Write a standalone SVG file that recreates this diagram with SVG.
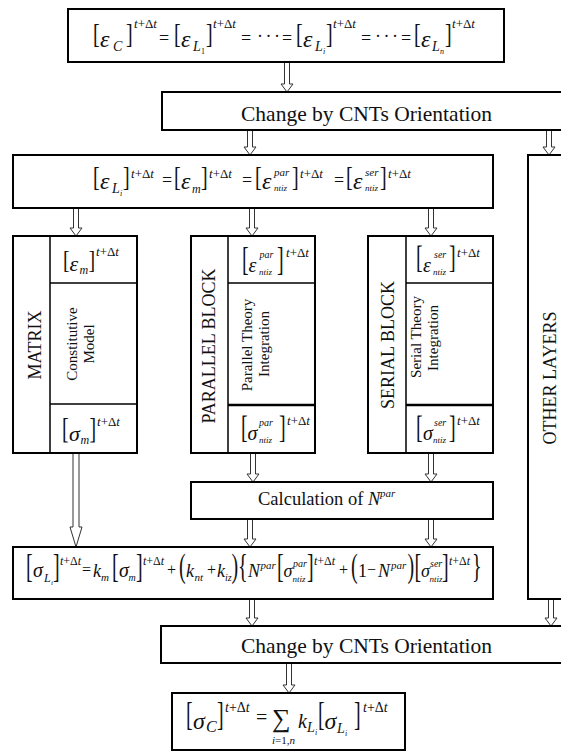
<svg xmlns="http://www.w3.org/2000/svg" width="561" height="753" viewBox="0 0 561 753">
<style>
  .box{fill:#fff;stroke:#000;stroke-width:2}
  .dv{stroke:#000;stroke-width:1.5;fill:none}
  .dvb{stroke:#000;stroke-width:2.5;fill:none}
  .arr{fill:#fff;stroke:#333;stroke-width:1}
  text{font-family:"Liberation Serif","Times New Roman",serif;fill:#111}
  .lbl{font-size:21.5px}
  .rl{font-size:18px}
  .sm{font-size:15px}
  .it{font-style:italic}
  .bk{font-size:20px}
  .up{font-style:normal}
</style>

<!-- connectors: hollow block arrows -->
<g id="connectors">
  <path class="arr" d="M284.5 62V84H281L287 92L293 84H289.5V62"/>
  <path class="arr" d="M247.5 130V147H244L250 155L256 147H252.5V130"/>
  <path class="arr" d="M546.5 130V147H543L549 155L555 147H551.5V130"/>
  <path class="arr" d="M73.5 208V228H70L76 236L82 228H78.5V208"/>
  <path class="arr" d="M249.5 208V228H246L252 236L258 228H254.5V208"/>
  <path class="arr" d="M428.5 208V228H425L431 236L437 228H433.5V208"/>
  <path class="arr" d="M250.5 453V474H247L253 482L259 474H255.5V453"/>
  <path class="arr" d="M428.5 453V474H425L431 482L437 474H433.5V453"/>
  <path class="arr" d="M73 453V527H70L76 547L82 527H79V453"/>
  <path class="arr" d="M247.5 519V539H244L250 547L256 539H252.5V519"/>
  <path class="arr" d="M428.5 519V539H425L431 547L437 539H433.5V519"/>
  <path class="arr" d="M249.5 599V618H246L252 626L258 618H254.5V599"/>
  <path class="arr" d="M548.5 599V618H545L551 626L557 618H553.5V599"/>
  <path class="arr" d="M286.5 663V685H283L289 693L295 685H291.5V663"/>
</g>

<!-- composite strain equality -->
<g id="composite-strain">
  <rect class="box" x="68" y="9" width="436" height="53"/>
  <text class="bk" transform="translate(93,42.7) scale(1,1.34)">[</text>
  <text class="it" x="100" y="47" font-size="24">ε</text>
  <text class="it" x="113" y="51" font-size="14">C</text>
  <text class="bk" transform="translate(126,42.7) scale(1,1.34)">]</text>
  <text class="it" x="134" y="28" font-size="13">t<tspan class="up">+Δ</tspan>t</text>
  <text x="159" y="44" font-size="18">=</text>
  <text class="bk" transform="translate(174,42.7) scale(1,1.34)">[</text>
  <text class="it" x="181" y="47" font-size="24">ε</text>
  <text class="it" x="193" y="51" font-size="14">L</text>
  <text x="201" y="54" font-size="8">1</text>
  <text class="bk" transform="translate(206,42.7) scale(1,1.34)">]</text>
  <text class="it" x="213" y="28" font-size="13">t<tspan class="up">+Δ</tspan>t</text>
  <text x="241" y="44" font-size="18">=</text>
  <text x="257" y="42" font-size="18" textLength="23" lengthAdjust="spacing">···</text>
  <text x="282" y="44" font-size="18">=</text>
  <text class="bk" transform="translate(296,42.7) scale(1,1.34)">[</text>
  <text class="it" x="303" y="47" font-size="24">ε</text>
  <text class="it" x="315" y="51" font-size="14">L</text>
  <text class="it" x="323" y="54" font-size="8">i</text>
  <text class="bk" transform="translate(326,42.7) scale(1,1.34)">]</text>
  <text class="it" x="333" y="28" font-size="13">t<tspan class="up">+Δ</tspan>t</text>
  <text x="361" y="44" font-size="18">=</text>
  <text x="375" y="42" font-size="18" textLength="23" lengthAdjust="spacing">···</text>
  <text x="401" y="44" font-size="18">=</text>
  <text class="bk" transform="translate(414,42.7) scale(1,1.34)">[</text>
  <text class="it" x="421" y="47" font-size="24">ε</text>
  <text class="it" x="432" y="51" font-size="14">L</text>
  <text class="it" x="440" y="54" font-size="8">n</text>
  <text class="bk" transform="translate(445,42.7) scale(1,1.34)">]</text>
  <text class="it" x="452" y="28" font-size="13">t<tspan class="up">+Δ</tspan>t</text>
</g>

<g id="orientation-in">
  <rect class="box" x="162" y="92" width="403" height="38"/>
  <text class="lbl" x="241" y="121">Change by CNTs Orientation</text>
</g>

<!-- layer strain compatibility -->
<g id="layer-strain">
  <rect class="box" x="13" y="155" width="480" height="53"/>
  <text class="bk" transform="translate(93,185.7) scale(1,1.34)">[</text>
  <text class="it" x="100" y="189" font-size="24">ε</text>
  <text class="it" x="112" y="193" font-size="14">L</text>
  <text class="it" x="120" y="196" font-size="8">i</text>
  <text class="bk" transform="translate(123,185.7) scale(1,1.34)">]</text>
  <text class="it" x="131" y="178" font-size="13">t<tspan class="up">+Δ</tspan>t</text>
  <text x="162" y="186" font-size="18">=</text>
  <text class="bk" transform="translate(174,185.7) scale(1,1.34)">[</text>
  <text class="it" x="181" y="189" font-size="24">ε</text>
  <text class="it" x="192" y="193" font-size="12">m</text>
  <text class="bk" transform="translate(201,185.7) scale(1,1.34)">]</text>
  <text class="it" x="209" y="178" font-size="13">t<tspan class="up">+Δ</tspan>t</text>
  <text x="242" y="186" font-size="18">=</text>
  <text class="bk" transform="translate(255,185.7) scale(1,1.34)">[</text>
  <text class="it" x="262" y="189" font-size="24">ε</text>
  <text class="it" x="274" y="176" font-size="11">par</text>
  <text class="it" x="274" y="191" font-size="9">ntiz</text>
  <text class="bk" transform="translate(292,185.7) scale(1,1.34)">]</text>
  <text class="it" x="300" y="178" font-size="13">t<tspan class="up">+Δ</tspan>t</text>
  <text x="334" y="186" font-size="18">=</text>
  <text class="bk" transform="translate(346,185.7) scale(1,1.34)">[</text>
  <text class="it" x="353" y="189" font-size="24">ε</text>
  <text class="it" x="365" y="176" font-size="11">ser</text>
  <text class="it" x="365" y="191" font-size="9">ntiz</text>
  <text class="bk" transform="translate(380,185.7) scale(1,1.34)">]</text>
  <text class="it" x="388" y="178" font-size="13">t<tspan class="up">+Δ</tspan>t</text>
</g>

<g id="other-layers">
  <rect class="box" x="528" y="155" width="37" height="444"/>
  <text class="rl" transform="translate(556,378) rotate(-90)" text-anchor="middle">OTHER LAYERS</text>
</g>

<!-- matrix block -->
<g id="matrix">
  <rect class="box" x="13" y="236" width="124" height="217"/>
  <path class="dv" d="M50 236V453M50 283H137M50 404H137"/>
  <text class="rl" transform="translate(41,345) rotate(-90)" text-anchor="middle">MATRIX</text>
  <text class="bk" transform="translate(63,268) scale(1,1.22)">[</text>
  <text class="it" x="69.5" y="271" font-size="22">ε</text>
  <text class="it" x="79.5" y="274" font-size="12">m</text>
  <text class="bk" transform="translate(88.5,268) scale(1,1.22)">]</text>
  <text class="it" x="96" y="256" font-size="13">t<tspan class="up">+Δ</tspan>t</text>
  <text class="sm" transform="translate(77,344) rotate(-90)" text-anchor="middle">Constitutive</text>
  <text class="sm" transform="translate(94,344) rotate(-90)" text-anchor="middle">Model</text>
  <text class="bk" transform="translate(62,438) scale(1,1.52)">[</text>
  <text class="it" x="69" y="441" font-size="22">σ</text>
  <text class="it" x="80.5" y="444" font-size="12">m</text>
  <text class="bk" transform="translate(89.5,438) scale(1,1.52)">]</text>
  <text class="it" x="97" y="426" font-size="13">t<tspan class="up">+Δ</tspan>t</text>
</g>

<!-- parallel block -->
<g id="parallel-block">
  <rect class="box" x="191" y="236" width="124" height="217"/>
  <path class="dv" d="M228 236V453M228 283H315"/>
  <path class="dvb" d="M228 405H315"/>
  <text class="rl" transform="translate(215,346) rotate(-90)" text-anchor="middle">PARALLEL BLOCK</text>
  <text class="bk" transform="translate(242,270) scale(1,1.65)">[</text>
  <text class="it" x="248.5" y="272" font-size="20">ε</text>
  <text class="it" x="259.5" y="258" font-size="10">par</text>
  <text class="it" x="259" y="275" font-size="9">ntiz</text>
  <text class="bk" transform="translate(277,270) scale(1,1.65)">]</text>
  <text class="it" x="286" y="257" font-size="13">t<tspan class="up">+Δ</tspan>t</text>
  <text class="sm" transform="translate(252,345) rotate(-90)" text-anchor="middle">Parallel Theory</text>
  <text class="sm" transform="translate(269,344) rotate(-90)" text-anchor="middle">Integration</text>
  <text class="bk" transform="translate(241,438) scale(1,1.59)">[</text>
  <text class="it" x="247.5" y="440" font-size="20">σ</text>
  <text class="it" x="259" y="426" font-size="10">par</text>
  <text class="it" x="259" y="443" font-size="9">ntiz</text>
  <text class="bk" transform="translate(279,438) scale(1,1.59)">]</text>
  <text class="it" x="287" y="425" font-size="13">t<tspan class="up">+Δ</tspan>t</text>
</g>

<!-- serial block -->
<g id="serial-block">
  <rect class="box" x="368" y="236" width="125" height="217"/>
  <path class="dv" d="M406 236V453M406 283H493"/>
  <path class="dvb" d="M406 405H493"/>
  <text class="rl" transform="translate(394,345) rotate(-90)" text-anchor="middle">SERIAL BLOCK</text>
  <text class="bk" transform="translate(416,268) scale(1,1.53)">[</text>
  <text class="it" x="423" y="272" font-size="20">ε</text>
  <text class="it" x="434" y="258" font-size="10">ser</text>
  <text class="it" x="433" y="275" font-size="9">ntiz</text>
  <text class="bk" transform="translate(449,268) scale(1,1.53)">]</text>
  <text class="it" x="457" y="257" font-size="13">t<tspan class="up">+Δ</tspan>t</text>
  <text class="sm" transform="translate(421,337) rotate(-90)" text-anchor="middle">Serial Theory</text>
  <text class="sm" transform="translate(438,338) rotate(-90)" text-anchor="middle">Integration</text>
  <text class="bk" transform="translate(416,438) scale(1,1.59)">[</text>
  <text class="it" x="423" y="440" font-size="20">σ</text>
  <text class="it" x="434" y="426" font-size="10">ser</text>
  <text class="it" x="433" y="443" font-size="9">ntiz</text>
  <text class="bk" transform="translate(449,438) scale(1,1.59)">]</text>
  <text class="it" x="457" y="425" font-size="13">t<tspan class="up">+Δ</tspan>t</text>
</g>

<g id="participation">
  <rect class="box" x="191" y="482" width="302" height="37"/>
  <text x="258" y="505" font-size="18.5">Calculation of <tspan class="it">N</tspan></text>
  <text class="it" x="380" y="497" font-size="11">par</text>
</g>

<!-- layer stress -->
<g id="layer-stress">
  <rect class="box" x="13" y="547" width="480" height="52"/>
  <text class="bk" transform="translate(26,577) scale(1,1.65)">[</text>
  <text class="it" x="33" y="577" font-size="20">σ</text>
  <text class="it" x="44" y="582" font-size="12">L</text>
  <text class="it" x="51" y="585" font-size="7">i</text>
  <text class="bk" transform="translate(53,577) scale(1,1.65)">]</text>
  <text class="it" x="60" y="565" font-size="12">t<tspan class="up">+Δ</tspan>t</text>
  <text x="82" y="575" font-size="16">=</text>
  <text class="it" x="93" y="577" font-size="18">k</text>
  <text class="it" x="101" y="581" font-size="11">m</text>
  <text class="bk" transform="translate(112,577) scale(1,1.65)">[</text>
  <text class="it" x="119" y="577" font-size="20">σ</text>
  <text class="it" x="128.5" y="581" font-size="10">m</text>
  <text class="bk" transform="translate(136,577) scale(1,1.65)">]</text>
  <text class="it" x="143" y="565" font-size="12">t<tspan class="up">+Δ</tspan>t</text>
  <text x="167" y="575" font-size="16">+</text>
  <text class="bk" transform="translate(179,577) scale(1,1.65)">(</text>
  <text class="it" x="186" y="577" font-size="18">k</text>
  <text class="it" x="194.5" y="581" font-size="11">nt</text>
  <text x="207" y="575" font-size="16">+</text>
  <text class="it" x="217" y="577" font-size="18">k</text>
  <text class="it" x="225" y="581" font-size="10">iz</text>
  <text class="bk" transform="translate(231.5,577) scale(1,1.65)">)</text>
  <text class="bk" transform="translate(238,577) scale(1,1.65)">{</text>
  <text class="it" x="248" y="577" font-size="18">N</text>
  <text class="it" x="260.5" y="569" font-size="11">par</text>
  <text class="bk" transform="translate(277,577) scale(1,1.65)">[</text>
  <text class="it" x="283.5" y="577" font-size="18">σ</text>
  <text class="it" x="293" y="567" font-size="10">par</text>
  <text class="it" x="292.5" y="582" font-size="9">ntiz</text>
  <text class="bk" transform="translate(307,577) scale(1,1.65)">]</text>
  <text class="it" x="314" y="565" font-size="12">t<tspan class="up">+Δ</tspan>t</text>
  <text x="339" y="575" font-size="16">+</text>
  <text class="bk" transform="translate(351,577) scale(1,1.65)">(</text>
  <text x="358" y="577" font-size="18">1</text>
  <text x="367" y="575" font-size="16">−</text>
  <text class="it" x="378" y="577" font-size="18">N</text>
  <text class="it" x="391" y="569" font-size="11">par</text>
  <text class="bk" transform="translate(407.5,577) scale(1,1.65)">)</text>
  <text class="bk" transform="translate(414.5,577) scale(1,1.65)">[</text>
  <text class="it" x="421" y="577" font-size="18">σ</text>
  <text class="it" x="430" y="567" font-size="10">ser</text>
  <text class="it" x="429.5" y="582" font-size="9">ntiz</text>
  <text class="bk" transform="translate(442,577) scale(1,1.65)">]</text>
  <text class="it" x="449" y="565" font-size="12">t<tspan class="up">+Δ</tspan>t</text>
  <text class="bk" transform="translate(472,577) scale(1,1.65)">}</text>
</g>

<g id="orientation-out">
  <rect class="box" x="161" y="626" width="404" height="37"/>
  <text class="lbl" x="241" y="653">Change by CNTs Orientation</text>
</g>

<!-- composite stress -->
<g id="composite-stress">
  <rect class="box" x="172" y="693" width="233" height="57"/>
  <text class="bk" transform="translate(186,725) scale(1,1.65)">[</text>
  <text class="it" x="193" y="729" font-size="24">σ</text>
  <text class="it" x="206" y="732" font-size="16">C</text>
  <text class="bk" transform="translate(217,725) scale(1,1.65)">]</text>
  <text class="it" x="225" y="712" font-size="14">t<tspan class="up">+Δ</tspan>t</text>
  <text x="256" y="724" font-size="20">=</text>
  <text x="272" y="727" font-size="26">∑</text>
  <text class="it" x="272" y="744" font-size="11">i<tspan class="up">=1,</tspan>n</text>
  <text class="it" x="298" y="728" font-size="20">k</text>
  <text class="it" x="307" y="732" font-size="14">L</text>
  <text class="it" x="315" y="735" font-size="8">i</text>
  <text class="bk" transform="translate(318,725) scale(1,1.65)">[</text>
  <text class="it" x="324.5" y="729" font-size="24">σ</text>
  <text class="it" x="337" y="733" font-size="14">L</text>
  <text class="it" x="345" y="736" font-size="8">i</text>
  <text class="bk" transform="translate(354,725) scale(1,1.65)">]</text>
  <text class="it" x="363" y="712" font-size="14">t<tspan class="up">+Δ</tspan>t</text>
</g>
</svg>
